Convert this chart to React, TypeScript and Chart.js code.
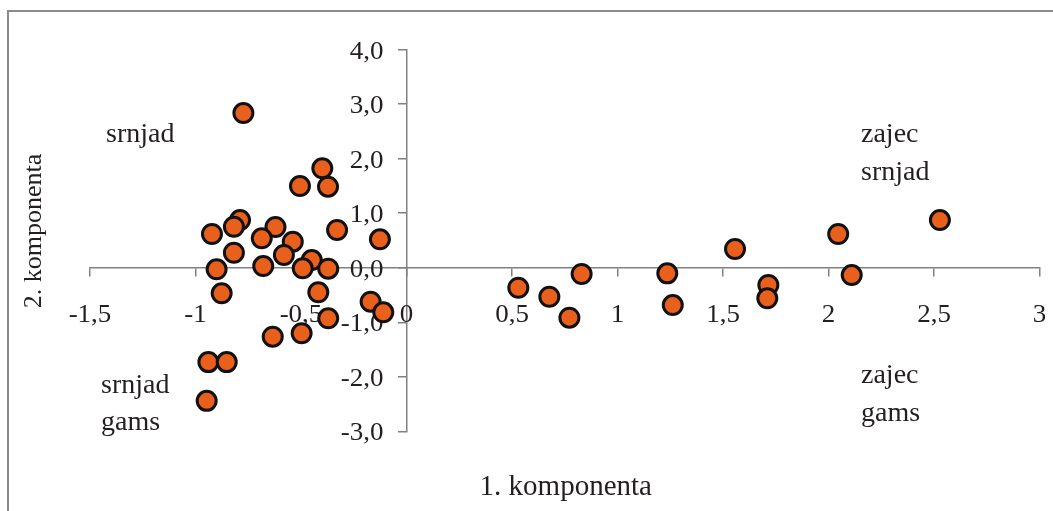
import React, { useEffect, useRef } from 'react';
import { Chart, registerables } from 'chart.js';

Chart.register(...registerables);

// 1. komponenta (x) and 2. komponenta (y) scores
const component1 = [
  -0.773, -0.399, -0.505, -0.372, -0.789, -0.818, -0.922, -0.621, -0.686, -0.539,
  -0.329, -0.126, -0.818, -0.581, -0.449, -0.900, -0.679, -0.492, -0.371, -0.876,
  -0.418, -0.170, -0.110, -0.371, -0.497, -0.634, -0.939, -0.852, -0.947,
  0.530, 0.677, 0.772, 0.830, 1.236, 1.262, 1.557, 1.715, 1.710, 2.046, 2.110, 2.528,
];
const component2 = [
  2.835, 1.822, 1.497, 1.485, 0.874, 0.751, 0.618, 0.746, 0.539, 0.477,
  0.691, 0.521, 0.275, 0.233, 0.141, -0.029, 0.031, -0.011, -0.018, -0.469,
  -0.451, -0.623, -0.817, -0.927, -1.202, -1.264, -1.73, -1.73, -2.44,
  -0.367, -0.532, -0.916, -0.115, -0.103, -0.684, 0.343, -0.317, -0.561, 0.618, -0.134, 0.874,
];

const xTickLabels = ['-1,5', '-1', '-0,5', '0', '0,5', '1', '1,5', '2', '2,5', '3'];
const yTickLabels = ['-3,0', '-2,0', '-1,0', '0,0', '1,0', '2,0', '3,0', '4,0'];
const xTitle = '1. komponenta';
const yTitle = '2. komponenta';
const labelTopLeft = ['srnjad'];
const labelTopRight = ['zajec', 'srnjad'];
const labelBottomLeft = ['srnjad', 'gams'];
const labelBottomRight = ['zajec', 'gams'];

const TEXT = '#231f20';
const AXIS = '#808080';
const SERIF = '"Liberation Serif", "Times New Roman", serif';

function stretchedText(ctx: CanvasRenderingContext2D, text: string, x: number, y: number, align: CanvasTextAlign, sx: number) {
  ctx.save();
  ctx.translate(x, y);
  ctx.scale(sx, 1);
  ctx.textAlign = align;
  ctx.textBaseline = 'alphabetic';
  ctx.fillText(text, 0, 0);
  ctx.restore();
}

const textPlugin = {
  id: 'customText',
  beforeDraw(chart: any) {
    const ctx = chart.ctx as CanvasRenderingContext2D;
    ctx.save();
    ctx.strokeStyle = '#8a8a8a';
    ctx.lineWidth = 2;
    ctx.beginPath();
    ctx.moveTo(8, chart.height);
    ctx.lineTo(8, 11);
    ctx.lineTo(chart.width, 11);
    ctx.stroke();
    ctx.restore();
  },
  beforeDatasetsDraw(chart: any) {
    const ctx = chart.ctx as CanvasRenderingContext2D;
    const xs = chart.scales.x;
    const ys = chart.scales.y;
    const y0 = ys.getPixelForValue(0);
    const x0 = xs.getPixelForValue(0);
    ctx.save();
    ctx.fillStyle = TEXT;
    ctx.font = `25px ${SERIF}`;
    xs.ticks.forEach((t: any, i: number) => {
      const px = xs.getPixelForValue(t.value);
      stretchedText(ctx, xTickLabels[i] ?? '', px, y0 + 54, 'center', 1.08);
    });
    ys.ticks.forEach((t: any, i: number) => {
      const py = ys.getPixelForValue(t.value);
      stretchedText(ctx, yTickLabels[i] ?? '', x0 - 23, py + 9, 'right', 1.08);
    });
    ctx.restore();
  },
  afterDraw(chart: any) {
    const ctx = chart.ctx as CanvasRenderingContext2D;
    const area = chart.chartArea;
    ctx.save();
    ctx.fillStyle = TEXT;
    ctx.font = `28px ${SERIF}`;
    ctx.textAlign = 'left';
    ctx.textBaseline = 'alphabetic';
    labelTopLeft.forEach((s, i) => ctx.fillText(s, area.left + 16, 142 + i * 38));
    labelTopRight.forEach((s, i) => ctx.fillText(s, area.left + 771, 142 + i * 38));
    labelBottomLeft.forEach((s, i) => ctx.fillText(s, area.left + 11, 393 + i * 37));
    labelBottomRight.forEach((s, i) => ctx.fillText(s, area.left + 771, 383 + i * 38));
    ctx.textAlign = 'center';
    ctx.font = `29px ${SERIF}`;
    ctx.fillText(xTitle, (area.left + area.right) / 2 + 1, 495);
    ctx.save();
    ctx.translate(34, 231);
    ctx.rotate(-Math.PI / 2);
    ctx.font = `26px ${SERIF}`;
    ctx.textBaseline = 'middle';
    ctx.fillText(yTitle, 0, 0);
    ctx.restore();
    ctx.restore();
  },
};

export default function App() {
  const canvasRef = useRef<HTMLCanvasElement | null>(null);

  useEffect(() => {
    if (!canvasRef.current) return;
    const points = component1.map((x, i) => ({ x, y: component2[i] }));
    const chart = new Chart(canvasRef.current, {
      type: 'scatter',
      data: {
        datasets: [
          {
            data: points,
            backgroundColor: '#E8601C',
            borderColor: '#111111',
            borderWidth: 3,
            pointRadius: 9.5,
            pointHoverRadius: 9.5,
          },
        ],
      },
      options: {
        responsive: false,
        animation: false,
        events: [],
        layout: { padding: { left: 90, top: 49.5, right: 13.5, bottom: 79.6 } },
        plugins: { legend: { display: false }, tooltip: { enabled: false }, title: { display: false } },
        scales: {
          x: {
            type: 'linear',
            position: { y: 0 },
            min: -1.5,
            max: 3,
            ticks: { stepSize: 0.5, display: false },
            grid: { drawOnChartArea: false, drawTicks: true, tickLength: 8, color: AXIS, lineWidth: 1.5 },
            border: { color: AXIS, width: 1.5 },
            afterFit: (s: any) => { s.height = 0; },
          },
          y: {
            type: 'linear',
            position: { x: 0 },
            min: -3,
            max: 4,
            ticks: { stepSize: 1, display: false },
            grid: { drawOnChartArea: false, drawTicks: true, tickLength: 8, color: AXIS, lineWidth: 1.5 },
            border: { color: AXIS, width: 1.5 },
            afterFit: (s: any) => { s.width = 0; },
          },
        },
      } as any,
      plugins: [textPlugin],
    });
    return () => chart.destroy();
  }, []);

  return (
    <div style={{ position: 'absolute', left: 0, top: 0, width: 1053, height: 511, background: '#fff' }}>
      <canvas ref={canvasRef} width={1053} height={511} style={{ display: 'block', width: 1053, height: 511 }} />
    </div>
  );
}
